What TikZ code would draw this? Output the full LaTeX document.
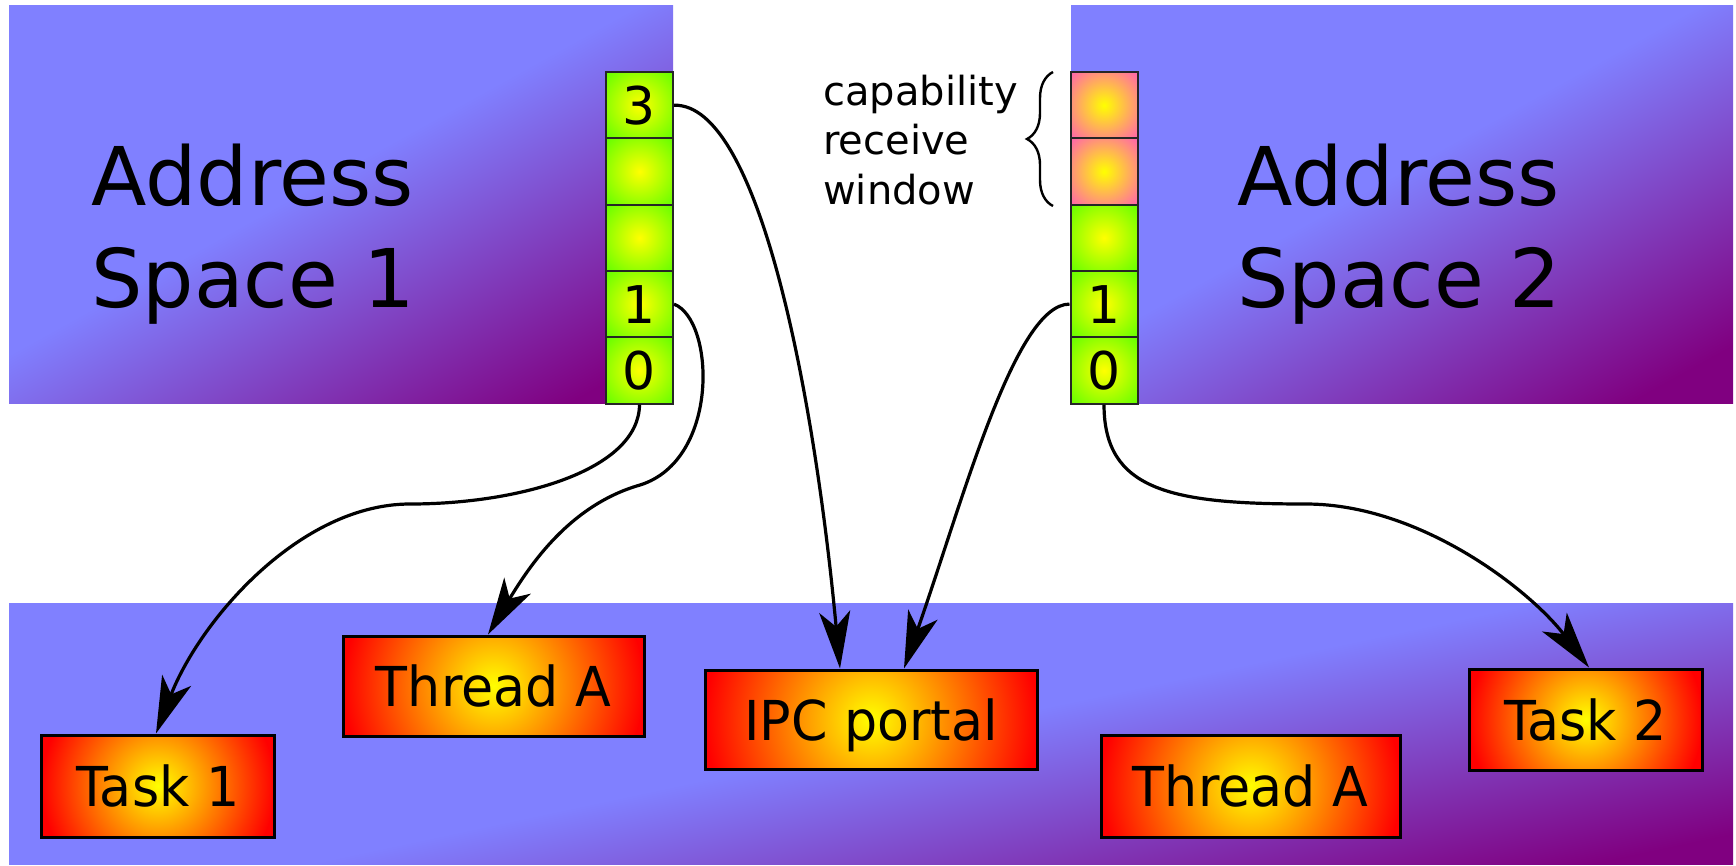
\documentclass[tikz,border=0pt]{standalone}
\usepackage{fontspec}
\setmainfont{DejaVu Sans}
\newfontfamily\boxfont{DejaVu Sans}[FakeStretch=0.95]
\usetikzlibrary{arrows.meta,decorations.pathreplacing}
\definecolor{asblue}{RGB}{128,128,255}
\definecolor{aspurple}{RGB}{128,0,128}
\definecolor{cellgreen}{RGB}{102,255,0}
\definecolor{cellpink}{RGB}{255,102,170}
\pgfdeclarehorizontalshading{asgrad}{100bp}{color(0bp)=(asblue); color(47bp)=(asblue); color(79bp)=(aspurple); color(100bp)=(aspurple)}
\pgfdeclarehorizontalshading{bandgrad}{100bp}{color(0bp)=(asblue); color(51bp)=(asblue); color(77bp)=(aspurple); color(100bp)=(aspurple)}
\tikzset{
  asbox/.style={shading=asgrad, shading angle=-61, inner sep=0pt, outer sep=0pt},
  bandbox/.style={shading=bandgrad, shading angle=-78, inner sep=0pt, outer sep=0pt},
  cell/.style={draw=black!85, line width=2pt, minimum width=67pt, minimum height=66.3pt,
    inner sep=0pt, font=\fontsize{52}{60}\selectfont, fill=cellgreen,
    path picture={\shade[inner color=yellow, outer color=cellgreen] (path picture bounding box.center) circle[radius=46pt];}},
  pinkcell/.style={cell, fill=cellpink,
    path picture={\shade[inner color=yellow, outer color=cellpink] (path picture bounding box.center) circle[radius=46pt];}},
  taskbox/.style={draw=black, line width=3pt, fill=red, inner sep=0pt, text depth=0pt,
    font={\boxfont\fontsize{55}{66}\selectfont},
    path picture={\shade[inner color=yellow, outer color=red] (path picture bounding box.center) circle[radius=#1];}},
  title/.style={anchor=base west, align=left, inner sep=0pt, font=\fontsize{81}{102}\selectfont},
  conn/.style={line width=3.2pt, -{Stealth[length=57pt,width=31pt,inset=15pt]}}
}
\begin{document}
\begin{tikzpicture}[x=1pt,y=-1pt]
\useasboundingbox (0,0) rectangle (1736,865);
\fill[white] (0,0) rectangle (1736,865);
% address space boxes and band
\node[asbox, minimum width=664pt, minimum height=398pt] (as1) at (341,204) {};
\node[asbox, minimum width=662pt, minimum height=398pt] (as2) at (1402,204) {};
\node[bandbox, minimum width=1724pt, minimum height=261pt] (band) at (871,733.5) {};
% titles (anchor = baseline of last line)
\node[title] (t1) at (91,307) {Address\\Space 1};
\node[title] (t2) at (1237,307) {Address\\Space 2};
% capability cells, address space 1
\node[cell] (a3) at (639.5,105.2) {3};
\node[cell] (ae2) at (639.5,171.5) {};
\node[cell] (ae1) at (639.5,237.8) {};
\node[cell] (a1) at (639.5,304.1) {1};
\node[cell] (a0) at (639.5,370.4) {0};
% capability cells, address space 2
\node[pinkcell] (br2) at (1104,105.2) {};
\node[pinkcell] (br1) at (1104,171.5) {};
\node[cell] (be) at (1104,237.8) {};
\node[cell] (b1) at (1104,304.1) {1};
\node[cell] (b0) at (1104,370.4) {0};
% kernel objects
\node[taskbox=117pt, minimum width=233pt, minimum height=102pt] (task1) at (158,786) {Task 1};
\node[taskbox=150pt, minimum width=301pt, minimum height=100pt] (thA1) at (493.5,686) {Thread A};
\node[taskbox=166pt, minimum width=332pt, minimum height=99pt] (ipc) at (871,719.5) {IPC portal};
\node[taskbox=150pt, minimum width=299pt, minimum height=102pt] (thA2) at (1250.5,786) {Thread A};
\node[taskbox=117pt, minimum width=233pt, minimum height=101pt] (task2) at (1585.5,719.5) {Task 2};
% helper points
\coordinate (m0) at (410,504);
\coordinate (m1) at (640,485);
\coordinate (m2) at (1306,504);
% connectors
\draw[conn] (a3.east) .. controls (760,103) and (815,400) .. ([xshift=-31pt]ipc.north);
\draw[conn] (a1.east) .. controls (715,320) and (720,460) .. (m1) .. controls (570,505) and (530,565) .. ([xshift=-5.5pt]thA1.north);
\draw[conn] (a0.south) .. controls (639,470) and (520,504) .. (m0) .. controls (300,504) and (200,620) .. ([xshift=-2pt]task1.north);
\draw[conn] (b1.west) .. controls (1015,304) and (963,500) .. ([xshift=33pt]ipc.north);
\draw[conn] (b0.south) .. controls (1104,490) and (1170,504) .. (m2) .. controls (1420,504) and (1530,590) .. ([xshift=3.5pt]task2.north);
% brace and label
\coordinate (brb) at (1053,206);
\coordinate (brt) at (1053,72);
\draw[line width=2.4pt, decorate, decoration={brace, amplitude=26pt}] (brb) -- (brt);
\node[anchor=base west, align=left, inner sep=0pt, font=\fontsize{40}{49.5}\selectfont] (cap) at (823,204) {capability\\receive\\window};
\end{tikzpicture}
\end{document}
